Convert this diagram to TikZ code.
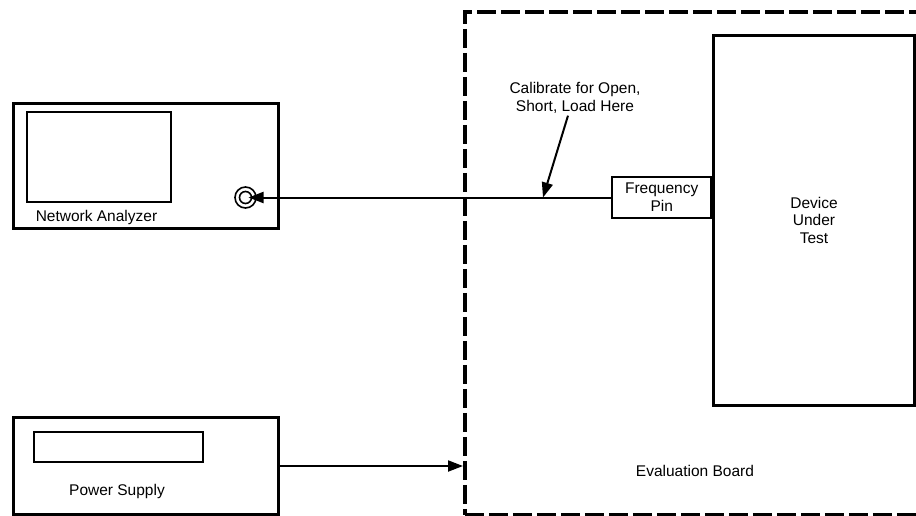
\documentclass[tikz,border=0pt]{standalone}
\usepackage{fontspec}
\setmainfont{Liberation Sans}
\usetikzlibrary{arrows.meta, positioning}

\begin{document}
\begin{tikzpicture}[x=1pt, y=-1pt,
    every node/.style={font=\fontsize{15.5}{17.7}\selectfont},
    unit/.style={draw, line width=3pt, inner sep=0pt, anchor=north west},
    panel/.style={draw, line width=1.6pt, inner sep=0pt, anchor=north west},
    conn/.style={line width=2pt, -{Triangle[length=15pt, width=11pt]}}]
    \clip (0,0) rectangle (916,515);

    \node[unit, minimum width=265pt, minimum height=125pt] (na) at (12,102) {};
    \node[panel, minimum width=144pt, minimum height=90pt] (screen) at (26,111) {};
    \node[anchor=base] (nalabel) at (96.5,221) {Network Analyzer};
    \node[draw, circle, line width=1.6pt, minimum size=21pt, inner sep=0pt] (jack) at (245.5,197.5) {};
    \node[draw, circle, line width=1.6pt, minimum size=12pt, inner sep=0pt] (jackin) at (jack.center) {};

    \node[unit, minimum width=265pt, minimum height=97pt] (ps) at (12,416) {};
    \node[panel, minimum width=169pt, minimum height=30pt] (display) at (33,431) {};
    \node[anchor=base] (pslabel) at (117,495) {Power Supply};

    \node[draw, dash pattern=on 19pt off 5pt, line width=3.5pt, inner sep=0pt,
          anchor=north west, minimum width=520pt, minimum height=503pt] (board) at (463,10) {};
    \node[anchor=base] (boardlabel) at (695,476) {Evaluation Board};

    \node[unit, minimum width=201pt, minimum height=370.5pt, align=center] (dut) at (712,33.5) {Device\\Under\\Test};
    \node[panel, minimum width=99pt, minimum height=41pt, align=center, anchor=east] (fpin) at (dut.west |- 0,197.5) {Frequency\\Pin};

    \node[align=center, inner sep=2pt] (calib) at (575,98) {Calibrate for Open,\\Short, Load Here};
    \coordinate (calpoint) at (543,197.5);

    \draw[conn] (fpin.west) -- ([xshift=3pt]jack.center);
    \draw[conn] ([xshift=-7pt]calib.south) -- (calpoint);
    \draw[conn] (ps.east) -- (ps.east -| board.west);
\end{tikzpicture}
\end{document}
